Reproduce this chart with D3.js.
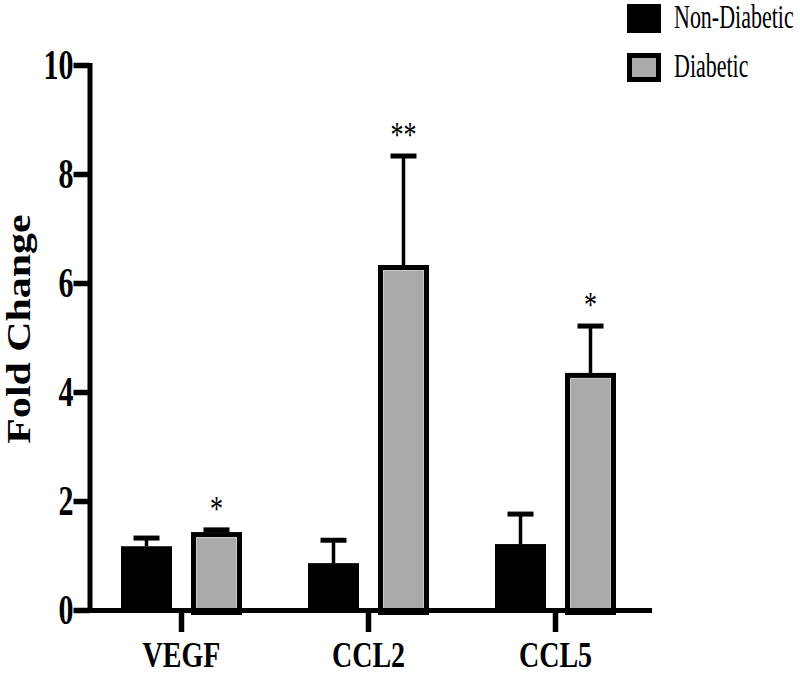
<!DOCTYPE html>
<html>
<head>
<meta charset="utf-8">
<script src="https://cdn.jsdelivr.net/npm/d3@7"></script>
<style>
  html, body { margin: 0; padding: 0; background: #fff; }
  svg { display: block; }
  text { font-family: "Liberation Serif", "Times New Roman", serif; fill: #000; }
</style>
</head>
<body>
<svg id="chart" width="800" height="676"></svg>
<script>
// ---- data ----
const categories = ["VEGF", "CCL2", "CCL5"];
const series = ["Non-Diabetic", "Diabetic"];
const nonDiabetic = [1.17, 0.86, 1.21];
const nonDiabeticErr = [0.15, 0.42, 0.55];
const diabetic = [1.43, 6.33, 4.35];
const diabeticErr = [0.04, 2.0, 0.86];
const diabeticSig = ["*", "**", "*"];
const yTicks = [0, 2, 4, 6, 8, 10];
const yTitle = "Fold Change";

// ---- setup ----
const svg = d3.select("#chart");
svg.append("rect").attr("width", 800).attr("height", 676).attr("fill", "#fff");

const y = d3.scaleLinear().domain([0, 10]).range([610, 65]);
const x = d3.scaleBand().domain(categories).range([88, 649])
  .paddingInner(0.353).paddingOuter(0.1765);
const xSub = d3.scaleBand().domain(series).range([0, x.bandwidth()]).paddingInner(0.2714);

const colors = { "Non-Diabetic": "#000000", "Diabetic": "#aaaaaa" };

const rows = categories.map((c, i) => ([
  { cat: c, s: "Non-Diabetic", v: nonDiabetic[i], e: nonDiabeticErr[i], sig: "" },
  { cat: c, s: "Diabetic", v: diabetic[i], e: diabeticErr[i], sig: diabeticSig[i] }
])).flat();

const bw = xSub.bandwidth();
const plot = svg.append("g");

// bars
rows.forEach(d => {
  const x0 = x(d.cat) + xSub(d.s);
  if (d.s === "Non-Diabetic") {
    plot.append("rect")
      .attr("x", x0).attr("y", y(d.v))
      .attr("width", bw).attr("height", y(0) - y(d.v))
      .attr("fill", colors[d.s]);
  } else {
    plot.append("rect")
      .attr("x", x0 + 2.5).attr("y", y(d.v) + 2.5)
      .attr("width", bw - 5).attr("height", y(0) - y(d.v))
      .attr("fill", colors[d.s]).attr("stroke", "#000").attr("stroke-width", 5);
    plot.append("rect")
      .attr("x", x0 + 5.5).attr("y", y(d.v) + 5.5)
      .attr("width", bw - 11).attr("height", y(0) - y(d.v) - 6)
      .attr("fill", "none").attr("stroke", "#c8c8c8").attr("stroke-width", 1);
  }
  // error bars (upward)
  const cx = x0 + bw / 2;
  plot.append("line")
    .attr("x1", cx).attr("x2", cx)
    .attr("y1", y(d.v)).attr("y2", y(d.v + d.e))
    .attr("stroke", "#000").attr("stroke-width", 3.5);
  plot.append("line")
    .attr("x1", cx - 13).attr("x2", cx + 13)
    .attr("y1", y(d.v + d.e)).attr("y2", y(d.v + d.e))
    .attr("stroke", "#000").attr("stroke-width", 5);
  if (d.sig) {
    plot.append("g")
      .attr("transform", `translate(${cx},${y(d.v + d.e) - 9}) scale(1,1.35)`)
      .append("text")
      .attr("text-anchor", "middle")
      .attr("font-size", 26)
      .text(d.sig);
  }
});

// y axis
const yAxis = svg.append("g")
  .attr("transform", "translate(89.5,0)")
  .call(d3.axisLeft(y).tickValues(yTicks).tickSize(16).tickSizeOuter(0).tickPadding(16));
yAxis.select(".domain").attr("stroke", "#000").attr("stroke-width", 5).attr("stroke-linecap", "square");
yAxis.selectAll(".tick line").attr("stroke", "#000").attr("stroke-width", 5.5);
yAxis.selectAll(".tick text")
  .attr("x", 0).attr("dy", null).attr("y", 0)
  .attr("font-family", "Liberation Serif, serif")
  .attr("font-size", 30).attr("font-weight", "bold")
  .attr("text-anchor", "end")
  .attr("transform", "translate(-16,13) scale(1,1.4)");

// x axis
const xAxis = svg.append("g")
  .attr("transform", "translate(0,610)")
  .call(d3.axisBottom(x).tickSize(22).tickSizeOuter(0).tickPadding(0));
xAxis.select(".domain").attr("stroke", "#000").attr("stroke-width", 5).attr("stroke-linecap", "square");
xAxis.selectAll(".tick line").attr("stroke", "#000").attr("stroke-width", 5.5);
xAxis.selectAll(".tick text")
  .attr("y", 0).attr("dy", null)
  .attr("font-family", "Liberation Serif, serif")
  .attr("font-size", 28).attr("font-weight", "bold")
  .attr("transform", "translate(0,57) scale(1,1.25)");

// y title
svg.append("g")
  .attr("transform", "translate(30,329) rotate(-90) scale(1.27,1)")
  .append("text")
  .attr("text-anchor", "middle")
  .attr("font-size", 33).attr("font-weight", "bold")
  .text(yTitle);

// legend
const legend = svg.append("g");
series.forEach((s, i) => {
  const top = 4 + i * 49;
  if (s === "Non-Diabetic") {
    legend.append("rect").attr("x", 627).attr("y", top).attr("width", 34).attr("height", 29).attr("fill", "#000");
  } else {
    legend.append("rect").attr("x", 629.5).attr("y", top + 2.5).attr("width", 29).attr("height", 24)
      .attr("fill", colors[s]).attr("stroke", "#000").attr("stroke-width", 5);
  }
  legend.append("g")
    .attr("transform", `translate(674,${28 + i * 49}) scale(1,1.5)`)
    .append("text").attr("font-size", 22).text(s);
});
</script>
</body>
</html>
